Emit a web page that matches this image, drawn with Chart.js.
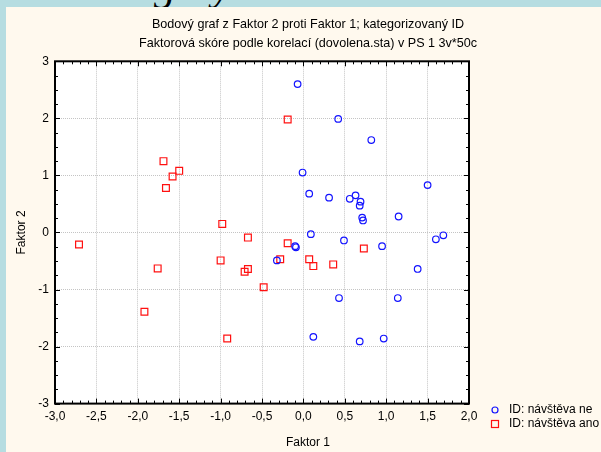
<!DOCTYPE html>
<html>
<head>
<meta charset="utf-8">
<script src="https://cdn.jsdelivr.net/npm/chart.js@4.4.1/dist/chart.umd.min.js"></script>
<style>
  html, body { margin: 0; padding: 0; width: 601px; height: 452px; overflow: hidden; background: #b6dde1; }
  #panel { position: absolute; left: 6px; top: 7px; width: 604px; height: 445px; background: #fff9ee; }
  #graf { position: absolute; left: 0; top: 0; }
  .kus { position: absolute; font-family: "Liberation Serif", serif; font-style: italic; font-size: 44px; color: #000; line-height: 44px; }
</style>
</head>
<body>
<span class="kus" style="left:154px; top:-36px;">g</span>
<span class="kus" style="left:212px; top:-36px;">y</span>
<div id="panel"><canvas id="graf" width="604" height="445"></canvas></div>
<script>
// Data
const popisSkupin = ['ID: návštěva ne', 'ID: návštěva ano'];

const neFaktor1 = [-0.07, 0.42, 0.82, -0.01, 1.50, 0.07, 0.31, 0.56, 0.63, 0.69, 0.68, 0.71, 0.72, 1.15,
  0.09, 0.49, 1.60, 1.69, 0.95, -0.10, -0.09, -0.32, 1.38, 0.43, 1.14, 0.12, 0.68, 0.97];
const neFaktor2 = [2.60, 1.99, 1.62, 1.05, 0.83, 0.68, 0.61, 0.59, 0.65, 0.54, 0.47, 0.26, 0.21, 0.28,
  -0.03, -0.14, -0.12, -0.05, -0.24, -0.24, -0.26, -0.49, -0.64, -1.15, -1.15, -1.83, -1.91, -1.86];

const anoFaktor1 = [-1.69, -1.50, -1.58, -1.66, -0.98, -0.19, 0.73, -0.67, -0.19, -0.28, 0.07, 0.12, 0.36,
  -0.67, -0.71, -0.48, -2.71, -1.00, -1.76, -1.92, -0.92];
const anoFaktor2 = [1.25, 1.08, 0.98, 0.78, 0.15, 1.98, -0.28, -0.09, -0.19, -0.47, -0.47, -0.59, -0.56,
  -0.64, -0.69, -0.96, -0.21, -0.49, -0.63, -1.39, -1.86];

const titulek = ['Bodový graf z Faktor 2 proti Faktor 1; kategorizovaný ID',
  'Faktorová skóre podle korelací (dovolena.sta) v PS 1 3v*50c'];
const nazevX = 'Faktor 1';
const nazevY = 'Faktor 2';

const body = (xs, ys) => xs.map((x, i) => ({ x: x, y: ys[i] }));

Chart.defaults.font.family = '"Liberation Sans", Arial, sans-serif';
Chart.defaults.font.size = 12;
Chart.defaults.color = '#000';

const modra = '#1414ff';
const cervena = '#ff1010';

// bílé pozadí grafu, rámeček, vnitřní značky a legenda
const ramecek = {
  id: 'ramecek',
  beforeDraw(chart) {
    const a = chart.chartArea, ctx = chart.ctx;
    ctx.save();
    ctx.fillStyle = '#fff';
    ctx.fillRect(a.left, a.top, a.right - a.left, a.bottom - a.top);
    ctx.restore();
  },
  afterDatasetsDraw(chart) {
    const a = chart.chartArea, ctx = chart.ctx;
    const sx = chart.scales.x, sy = chart.scales.y;
    ctx.save();
    ctx.strokeStyle = '#000';
    ctx.lineWidth = 1;
    ctx.beginPath();
    for (let i = 0; i <= 50; i++) {
      const px = Math.round(sx.getPixelForValue(-3 + i * 0.1)) + 0.5;
      const d = i % 5 === 0 ? 5 : 3;
      ctx.moveTo(px, a.bottom); ctx.lineTo(px, a.bottom - d);
      ctx.moveTo(px, a.top); ctx.lineTo(px, a.top + d);
    }
    for (let i = 0; i <= 24; i++) {
      const py = Math.round(sy.getPixelForValue(-3 + i * 0.25)) + 0.5;
      const d = i % 4 === 0 ? 5 : 3;
      ctx.moveTo(a.left, py); ctx.lineTo(a.left + d, py);
      ctx.moveTo(a.right, py); ctx.lineTo(a.right - d, py);
    }
    ctx.stroke();
    ctx.lineWidth = 2;
    ctx.strokeRect(a.left, a.top, a.right - a.left, a.bottom - a.top);

    // legenda vpravo dole
    ctx.lineWidth = 1.2;
    ctx.font = '12px "Liberation Sans", Arial, sans-serif';
    ctx.textBaseline = 'middle';
    ctx.fillStyle = '#000';
    ctx.strokeStyle = modra;
    ctx.beginPath();
    ctx.arc(489, 403, 3, 0, Math.PI * 2);
    ctx.stroke();
    ctx.fillText(popisSkupin[0], 503, 403);
    ctx.strokeStyle = cervena;
    ctx.strokeRect(485.5, 413.5, 7, 7);
    ctx.fillText(popisSkupin[1], 503, 417);
    ctx.restore();
  }
};

new Chart(document.getElementById('graf'), {
  type: 'scatter',
  data: {
    datasets: [
      {
        label: popisSkupin[0],
        data: body(neFaktor1, neFaktor2),
        pointStyle: 'circle',
        pointRadius: 3.3,
        borderColor: modra,
        backgroundColor: 'rgba(0,0,0,0)',
        borderWidth: 1.2
      },
      {
        label: popisSkupin[1],
        data: body(anoFaktor1, anoFaktor2),
        pointStyle: 'rect',
        pointRadius: 4.8,
        borderColor: cervena,
        backgroundColor: 'rgba(0,0,0,0)',
        borderWidth: 1.2
      }
    ]
  },
  options: {
    responsive: false,
    animation: false,
    layout: { padding: 0 },
    plugins: {
      legend: { display: false },
      tooltip: { enabled: false },
      title: {
        display: true,
        text: titulek,
        font: { size: 12.6, weight: 'normal', lineHeight: 1.52 },
        padding: { top: 8, bottom: 8 }
      },
      subtitle: {
        display: true,
        position: 'bottom',
        text: nazevX,
        font: { size: 12, weight: 'normal', lineHeight: 1.2 },
        padding: { top: 8, bottom: 2 }
      }
    },
    scales: {
      x: {
        type: 'linear',
        min: -3, max: 2,
        afterFit: s => { s.height = 24; },
        ticks: {
          stepSize: 0.5,
          padding: 6,
          maxRotation: 0,
          callback: v => v.toFixed(1).replace('.', ',')
        },
        grid: { color: '#c4c4c4', lineWidth: 1, drawTicks: false },
        border: { display: false, dash: [1, 1] }
      },
      y: {
        type: 'linear',
        min: -3, max: 3,
        afterFit: s => { s.width = 49; },
        ticks: { stepSize: 1, padding: 6 },
        grid: { color: '#c4c4c4', lineWidth: 1, drawTicks: false },
        border: { display: false, dash: [1, 1] },
        title: { display: true, text: nazevY, padding: { top: 8, bottom: 0 }, font: { size: 12 } }
      },
      // prázdné místo vpravo pro legendu
      misto: {
        type: 'linear',
        position: 'right',
        min: -3, max: 3,
        afterFit: s => { s.width = 141; },
        ticks: { display: false },
        grid: { display: false, drawTicks: false },
        border: { display: false }
      }
    }
  },
  plugins: [ramecek]
});
</script>
</body>
</html>
